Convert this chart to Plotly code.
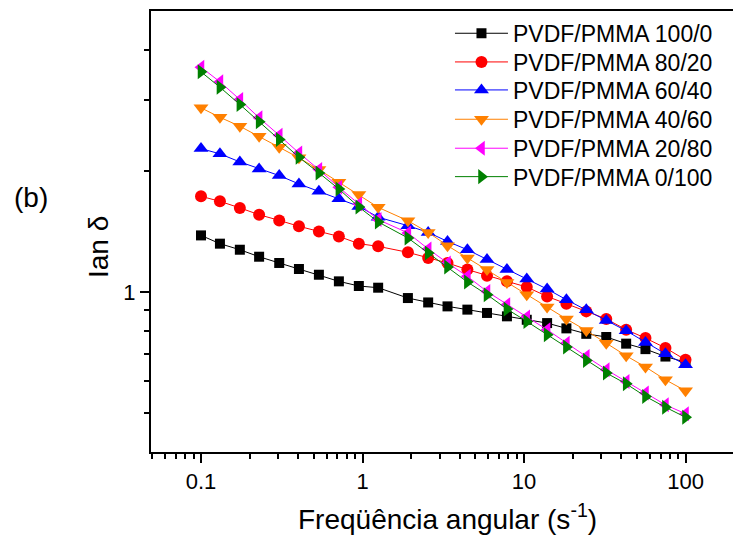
import plotly.graph_objects as go

# Angular frequency (s^-1)
freq = [0.1, 0.131, 0.174, 0.229, 0.305, 0.404, 0.537, 0.714, 0.949, 1.25,
        1.91, 2.55, 3.36, 4.46, 5.90, 7.84, 10.4, 13.9, 18.3, 24.3,
        32.3, 42.9, 56.5, 75.1, 100]

tan_100_0 = [1.383, 1.319, 1.274, 1.224, 1.181, 1.141, 1.104, 1.063, 1.035, 1.025,
             0.966, 0.942, 0.921, 0.904, 0.887, 0.870, 0.853, 0.837, 0.812, 0.787,
             0.773, 0.744, 0.721, 0.691, 0.669]
tan_80_20 = [1.730, 1.681, 1.619, 1.557, 1.507, 1.457, 1.415, 1.375, 1.319, 1.299,
             1.255, 1.215, 1.181, 1.137, 1.098, 1.063, 1.029, 0.975, 0.935, 0.895,
             0.857, 0.806, 0.768, 0.726, 0.678]
tan_60_40 = [2.274, 2.206, 2.107, 2.024, 1.948, 1.857, 1.780, 1.707, 1.633, 1.535,
             1.462, 1.407, 1.336, 1.274, 1.204, 1.137, 1.077, 1.017, 0.957, 0.904,
             0.850, 0.801, 0.749, 0.702, 0.659]
tan_40_60 = [2.871, 2.720, 2.584, 2.440, 2.291, 2.156, 2.016, 1.875, 1.747, 1.624,
             1.504, 1.407, 1.304, 1.215, 1.137, 1.056, 0.985, 0.918, 0.857, 0.802,
             0.746, 0.694, 0.651, 0.605, 0.568]
tan_20_80 = [3.624, 3.333, 3.011, 2.712, 2.454, 2.218, 2.016, 1.821, 1.656, 1.514,
             1.403, 1.280, 1.181, 1.094, 1.003, 0.930, 0.867, 0.806, 0.746, 0.691,
             0.641, 0.599, 0.561, 0.524, 0.498]
tan_0_100 = [3.529, 3.231, 2.927, 2.650, 2.394, 2.163, 1.978, 1.804, 1.627, 1.494,
             1.363, 1.251, 1.154, 1.059, 0.985, 0.907, 0.845, 0.783, 0.730, 0.676,
             0.629, 0.591, 0.550, 0.517, 0.488]

series_names = ["PVDF/PMMA 100/0", "PVDF/PMMA 80/20", "PVDF/PMMA 60/40",
                "PVDF/PMMA 40/60", "PVDF/PMMA 20/80", "PVDF/PMMA 0/100"]
series_values = [tan_100_0, tan_80_20, tan_60_40, tan_40_60, tan_20_80, tan_0_100]
series_colors = ["#000000", "#FF0000", "#0000FF", "#FF8000", "#FF00FF", "#008000"]
series_symbols = ["square", "circle", "triangle-up", "triangle-down", "triangle-left", "triangle-right"]
series_sizes = [10, 12, 13, 13, 13, 13]

x_major = [0.1, 1, 10, 100]
x_major_text = ["0.1", "1", "10", "100"]
x_minor = [0.05, 0.06, 0.07, 0.08, 0.09] + [k * 0.1 for k in range(2, 10)] + \
          list(range(2, 10)) + [k * 10 for k in range(2, 10)]
y_major = [1]
y_major_text = ["1"]
y_minor = [0.5, 0.6, 0.7, 0.8, 0.9, 2, 3, 4]

FONT = "Liberation Sans, Arial, sans-serif"
TITLE_SIZE = 28

# one single-entry legend per series, stacked as rows
legend_ids = ["legend", "legend2", "legend3", "legend4", "legend5", "legend6"]
legend_rows = [0.9494, 0.8844, 0.8209, 0.7544, 0.6887, 0.6243]

fig = go.Figure()
for name, vals, col, sym, sz, lid in zip(series_names, series_values, series_colors,
                                         series_symbols, series_sizes, legend_ids):
    fig.add_trace(go.Scatter(
        x=freq, y=vals, name=name, mode="lines+markers", legend=lid,
        line=dict(color=col, width=1),
        marker=dict(symbol=sym, size=sz, color=col, line=dict(width=0)),
    ))

axis_common = dict(
    type="log", showline=True, linewidth=2, linecolor="black",
    ticks="outside", ticklen=9, tickwidth=2, tickcolor="black",
    showgrid=False, zeroline=False,
    tickfont=dict(family=FONT, size=22, color="black"),
)

fig.update_xaxes(
    **axis_common,
    range=[-1.3096, 2.294], mirror=True,
    tickmode="array", tickvals=x_major, ticktext=x_major_text,
    minor=dict(tickmode="array", tickvals=x_minor, ticks="outside",
               ticklen=5, tickwidth=2, tickcolor="black", showgrid=False),
)
fig.update_yaxes(
    **axis_common,
    range=[-0.39794, 0.69897], mirror=False,
    tickmode="array", tickvals=y_major, ticktext=y_major_text,
    minor=dict(tickmode="array", tickvals=y_minor, ticks="outside",
               ticklen=5, tickwidth=2, tickcolor="black", showgrid=False),
)

legend_layout = {}
for lid, ly in zip(legend_ids, legend_rows):
    legend_layout[lid] = dict(
        x=0.5137, y=ly, xanchor="left", yanchor="middle",
        bgcolor="rgba(0,0,0,0)", borderwidth=0,
        font=dict(family=FONT, size=23, color="black"),
        itemwidth=53, tracegroupgap=0,
    )

fig.update_layout(
    width=733, height=535,
    margin=dict(l=151, r=0, t=11, b=83),
    paper_bgcolor="white", plot_bgcolor="white",
    font=dict(family=FONT, color="black"),
    showlegend=True,
    **legend_layout,
    annotations=[
        dict(text="Freqüência angular (s<sup>-1</sup>)", xref="paper", yref="paper",
             x=0.5086, y=-0.147, xanchor="center", yanchor="middle", showarrow=False,
             font=dict(family=FONT, size=TITLE_SIZE, color="black")),
        dict(text="Ian δ", xref="paper", yref="paper",
             x=-0.0893, y=0.4649, xanchor="center", yanchor="middle", showarrow=False,
             textangle=-90, font=dict(family=FONT, size=TITLE_SIZE, color="black")),
        dict(text="(b)", xref="paper", yref="paper",
             x=-0.2057, y=0.577, xanchor="center", yanchor="middle", showarrow=False,
             font=dict(family=FONT, size=TITLE_SIZE, color="black")),
    ],
)

fig.write_html("out.html")
